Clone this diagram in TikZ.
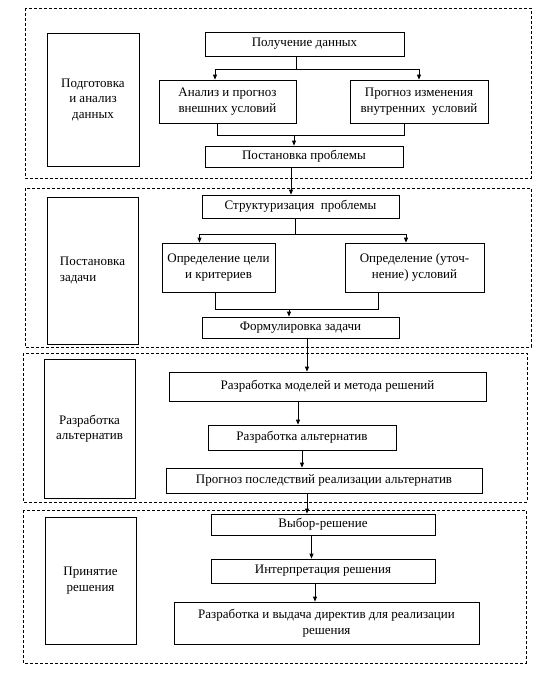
\documentclass[tikz,border=0pt]{standalone}
\usepackage{fontspec}
\setmainfont{Liberation Serif}
\usetikzlibrary{arrows.meta}
\newcommand{\boxwidth}{0.8pt}
\newcommand{\framewidth}{0.6pt}
\tikzset{
  box/.style={draw, line width=\boxwidth, align=center, inner sep=0pt, font=\fontsize{13}{15.5}\selectfont},
  frame/.style={draw, line width=\framewidth, dash pattern=on 3pt off 2pt},
  line/.style={line width=\boxwidth},
  arr/.style={line width=\boxwidth, -{Triangle[length=5pt,width=4pt]}}
}

\begin{document}
\begin{tikzpicture}[x=1pt, y=-1pt]
\useasboundingbox (0,0) rectangle (549,680);
%frames
\draw[frame] (25,8) rectangle (531,178);
\draw[frame] (25,188) rectangle (531,347);
\draw[frame] (23,353) rectangle (527,502);
\draw[frame] (23,510) rectangle (526,663);
%1
\node[box] (1) at (93, 99.5) [minimum width=92pt, minimum height=133pt] {Подготовка\\ и анализ\\ данных};
\node[box] (2) at (304.5, 44) [minimum width=199pt, minimum height=24pt] {Получение данных};
\node[box] (3) at (227.5, 101.5) [minimum width=137pt, minimum height=43pt] {Анализ и прогноз\\ внешних условий};
\node[box] (4) at (419, 101.5) [minimum width=138pt, minimum height=43pt] {Прогноз изменения\\ внутренних~ условий};
\node[box] (5) at (304, 156.5) [minimum width=198pt, minimum height=21pt] {Постановка проблемы};
\draw[line] ([xshift=-8.5pt]2.south) -- ++(0,13) coordinate (a1);
\draw[arr] (a1) -| ([xshift=-12.5pt]3.north);
\draw[arr] (a1) -| (4.north);
\coordinate (b1) at (294, 135);
\draw[line] ([xshift=-10.5pt]3.south) |- (b1);
\draw[line] ([xshift=-15pt]4.south) |- (b1);
\draw[arr] (b1) -- (b1 |- 5.north);
%2
\node[box, align=left] (6) at (92.5, 270.5) [minimum width=91pt, minimum height=147pt] {Постановка\\ задачи};
\node[box] (7) at (300.5, 206.5) [minimum width=197pt, minimum height=23pt] {Структуризация~ проблемы};
\node[box] (8) at (218.5, 267.5) [minimum width=113pt, minimum height=49pt] {Определение цели\\ и критериев};
\node[box] (9) at (414.5, 267.5) [minimum width=139pt, minimum height=49pt] {Определение (уточ-\\ нение) условий};
\node[box] (10) at (300.5, 327.5) [minimum width=197pt, minimum height=21pt] {Формулировка задачи};
\draw[arr] ([xshift=-13pt]5.south) -- ([xshift=-13pt]5.south |- 7.north);
\draw[line] ([xshift=-5pt]7.south) -- ++(0,16) coordinate (a2);
\draw[arr] (a2) -| ([xshift=-19pt]8.north);
\draw[arr] (a2) -| ([xshift=-8.5pt]9.north);
\coordinate (b2) at (289, 309);
\draw[line] ([xshift=-3.5pt]8.south) |- (b2);
\draw[line] ([xshift=-36.5pt]9.south) |- (b2);
\draw[arr] (b2) -- (b2 |- 10.north);
%3
\node[box] (11) at (89.5, 428.5) [minimum width=91pt, minimum height=139pt] {Разработка\\ альтернатив};
\node[box] (12) at (327.5, 386.5) [minimum width=317pt, minimum height=29pt] {Разработка моделей и метода решений};
\node[box] (13) at (302, 437.5) [minimum width=188pt, minimum height=25pt] {Разработка альтернатив};
\node[box] (14) at (324, 480.5) [minimum width=316pt, minimum height=25pt] {Прогноз последствий реализации альтернатив};
\draw[arr] ([xshift=6.5pt]10.south) -- ([xshift=6.5pt]10.south |- 12.north);
\draw[arr] ([xshift=-29.5pt]12.south) -- ([xshift=-29.5pt]12.south |- 13.north);
\draw[arr] (13.south) -- (13.south |- 14.north);
%4
\node[box] (15) at (90.5, 580.5) [minimum width=91pt, minimum height=127pt] {Принятие\\ решения};
\node[box] (16) at (323, 524.5) [minimum width=224pt, minimum height=21pt] {Выбор-решение};
\node[box] (17) at (323, 571) [minimum width=224pt, minimum height=24pt] {Интерпретация решения};
\node[box] (18) at (326.5, 623) [minimum width=305pt, minimum height=42pt] {Разработка и выдача директив для реализации\\ решения};
\draw[arr] ([xshift=-17pt]14.south) -- ([xshift=-17pt]14.south |- 16.north);
\draw[arr] ([xshift=-11.5pt]16.south) -- ([xshift=-11.5pt]16.south |- 17.north);
\draw[arr] ([xshift=-8pt]17.south) -- ([xshift=-8pt]17.south |- 18.north);
\end{tikzpicture}
\end{document}
